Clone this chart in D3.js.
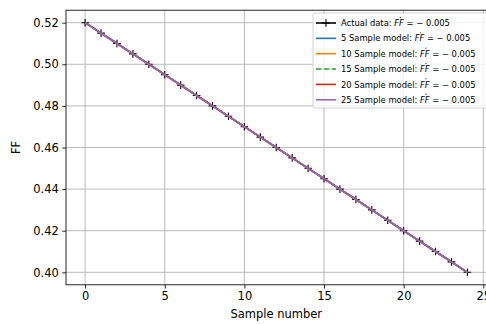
<!DOCTYPE html>
<html>
<head>
<meta charset="utf-8">
<script src="https://cdn.jsdelivr.net/npm/d3@7"></script>
<style>
  body { margin: 0; background: #fff; }
  svg { display: block; font-family: 'DejaVu Sans', sans-serif; }
</style>
</head>
<body>
<div id="chart"></div>
<script>
const WIDTH = 486;
const HEIGHT = 324;

// data
const sampleNumbers = [0, 1, 2, 3, 4, 5, 6, 7, 8, 9, 10, 11, 12, 13, 14, 15, 16, 17, 18, 19, 20, 21, 22, 23, 24];
const actualFF = [0.520, 0.515, 0.510, 0.505, 0.500, 0.495, 0.490, 0.485, 0.480, 0.475, 0.470, 0.465, 0.460,
  0.455, 0.450, 0.445, 0.440, 0.435, 0.430, 0.425, 0.420, 0.415, 0.410, 0.405, 0.400];
const modelFF = [0.520, 0.515, 0.510, 0.505, 0.500, 0.495, 0.490, 0.485, 0.480, 0.475, 0.470, 0.465, 0.460,
  0.455, 0.450, 0.445, 0.440, 0.435, 0.430, 0.425, 0.420, 0.415, 0.410, 0.405, 0.400];
const modelNames = ['5 Sample model', '10 Sample model', '15 Sample model', '20 Sample model', '25 Sample model'];
const modelSlopes = ['\u2212 0.005', '\u2212 0.005', '\u2212 0.005', '\u2212 0.005', '\u2212 0.005'];
const actualSlope = '\u2212 0.005';
const xTicks = [0, 5, 10, 15, 20, 25];
const yTicks = [0.40, 0.42, 0.44, 0.46, 0.48, 0.50, 0.52];

const modelColors = ['#1f77b4', '#ff7f0e', '#2ca02c', '#d62728', '#9467bd'];
const modelDash = [null, null, '5.5,2.4', null, null];

const margin = { left: 66, right: -0.5, top: 10.2, bottom: 39.2 };

const svg = d3.select('#chart').append('svg')
  .attr('width', WIDTH)
  .attr('height', HEIGHT);

const x = d3.scaleLinear().domain([-1.2, 25.2]).range([margin.left, WIDTH - margin.right]);
const y = d3.scaleLinear().domain([0.394, 0.526]).range([HEIGHT - margin.bottom, margin.top]);

// grid
const grid = svg.append('g').attr('class', 'grid');
grid.selectAll('line.gx').data(xTicks).enter().append('line')
  .attr('x1', (d) => x(d)).attr('x2', (d) => x(d))
  .attr('y1', y.range()[0]).attr('y2', y.range()[1])
  .attr('stroke', '#b0b0b0').attr('stroke-width', 0.85);
grid.selectAll('line.gy').data(yTicks).enter().append('line')
  .attr('y1', (d) => y(d)).attr('y2', (d) => y(d))
  .attr('x1', x.range()[0]).attr('x2', x.range()[1])
  .attr('stroke', '#b0b0b0').attr('stroke-width', 0.85);

svg.append('clipPath').attr('id', 'plotclip').append('rect')
  .attr('x', x.range()[0]).attr('y', y.range()[1])
  .attr('width', x.range()[1] - x.range()[0]).attr('height', y.range()[0] - y.range()[1]);

const plot = svg.append('g').attr('clip-path', 'url(#plotclip)');

const line = d3.line()
  .x((d, i) => x(sampleNumbers[i]))
  .y((d) => y(d));

// actual data: black line with + markers
plot.append('path')
  .datum(actualFF)
  .attr('d', line)
  .attr('fill', 'none')
  .attr('stroke', '#000')
  .attr('stroke-width', 1.6);

const ms = 3.8;
plot.selectAll('path.marker').data(actualFF).enter().append('path')
  .attr('class', 'marker')
  .attr('d', (d, i) => {
    const px = x(sampleNumbers[i]);
    const py = y(d);
    return `M${px - ms},${py}H${px + ms}M${px},${py - ms}V${py + ms}`;
  })
  .attr('stroke', '#000')
  .attr('stroke-width', 1.1);

// model lines
modelNames.forEach((name, k) => {
  plot.append('path')
    .datum(modelFF)
    .attr('d', line)
    .attr('fill', 'none')
    .attr('stroke', modelColors[k])
    .attr('stroke-width', 1.6)
    .attr('stroke-dasharray', modelDash[k]);
});

// axes
const xAxis = d3.axisBottom(x).tickValues(xTicks).tickSize(3.7).tickPadding(3.5).tickFormat(d3.format('d'));
const yAxis = d3.axisLeft(y).tickValues(yTicks).tickSize(3.7).tickPadding(3.5).tickFormat(d3.format('.2f'));

const gx = svg.append('g').attr('transform', `translate(0,${y.range()[0]})`).call(xAxis);
const gy = svg.append('g').attr('transform', `translate(${x.range()[0]},0)`).call(yAxis);
[gx, gy].forEach((g) => {
  g.select('.domain').remove();
  g.selectAll('.tick line').attr('stroke', '#000').attr('stroke-width', 0.85);
  g.selectAll('.tick text').attr('fill', '#000').style('font-size', '11.5px').style('font-family', "'DejaVu Sans', sans-serif");
});

// spines
svg.append('rect')
  .attr('x', x.range()[0]).attr('y', y.range()[1])
  .attr('width', x.range()[1] - x.range()[0]).attr('height', y.range()[0] - y.range()[1])
  .attr('fill', 'none').attr('stroke', '#000').attr('stroke-width', 0.85);

// axis labels
svg.append('text')
  .attr('x', (x.range()[0] + x.range()[1]) / 2)
  .attr('y', 318)
  .attr('text-anchor', 'middle')
  .style('font-size', '11.5px')
  .text('Sample number');

svg.append('text')
  .attr('transform', `translate(20,${(y.range()[0] + y.range()[1]) / 2}) rotate(-90)`)
  .attr('text-anchor', 'middle')
  .style('font-size', '11.5px')
  .text('FF');

// legend
const legend = svg.append('g').attr('transform', 'translate(313,13)');
legend.append('rect')
  .attr('x', 0).attr('y', 0).attr('width', 180).attr('height', 95)
  .attr('rx', 2.5)
  .attr('fill', 'rgba(255,255,255,0.8)')
  .attr('stroke', '#cccccc')
  .attr('stroke-width', 0.85);

const entries = [{ name: 'Actual data', color: '#000', dash: null, slope: actualSlope, marker: true }]
  .concat(modelNames.map((n, k) => ({ name: n, color: modelColors[k], dash: modelDash[k], slope: modelSlopes[k], marker: false })));

const rowH = 15.35;
entries.forEach((e, i) => {
  const ry = 10 + i * rowH;
  const row = legend.append('g').attr('transform', `translate(0,${ry})`);
  row.append('line')
    .attr('x1', 3).attr('x2', 23).attr('y1', 0).attr('y2', 0)
    .attr('stroke', e.color).attr('stroke-width', 1.6)
    .attr('stroke-dasharray', e.dash);
  if (e.marker) {
    row.append('path').attr('d', `M9,0H17M13,${-ms}V${ms}`).attr('stroke', '#000').attr('stroke-width', 1.1);
  }
  const t = row.append('text')
    .attr('x', 28).attr('y', 3.1)
    .style('font-size', '8.4px');
  t.append('tspan').text(`${e.name}: `);
  t.append('tspan').style('font-style', 'italic').text('FF');
  t.append('tspan').text(' = ');
  t.append('tspan').text(e.slope);
  // dot over FF
  const node = t.node();
  const start = node.getStartPositionOfChar(e.name.length + 2);
  const end = node.getEndPositionOfChar(e.name.length + 3);
  row.append('circle')
    .attr('cx', (start.x + end.x) / 2 + 1.2)
    .attr('cy', -5.6)
    .attr('r', 0.55)
    .attr('fill', '#000');
});
</script>
</body>
</html>
